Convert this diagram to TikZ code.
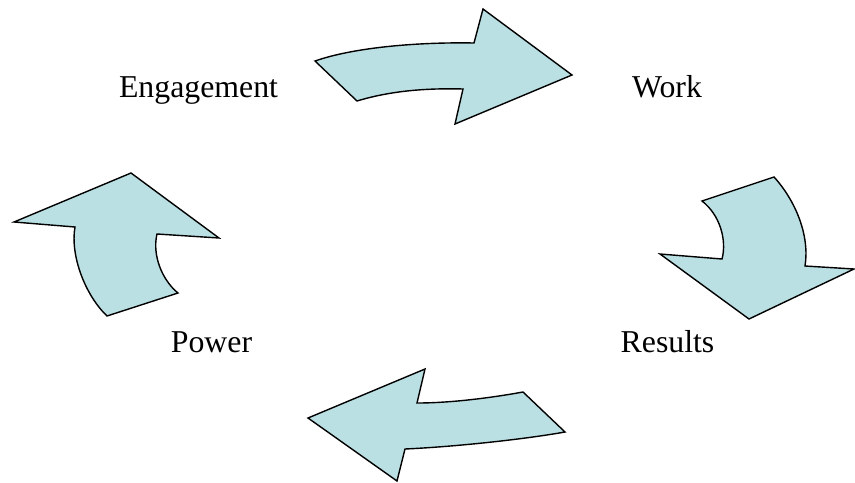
\documentclass[tikz,border=0pt]{standalone}
\usepackage{fontspec}
\setmainfont{Liberation Serif}
\definecolor{arrowfill}{RGB}{186,224,227}
\tikzset{
  cyclearrow/.style={draw=black, line width=0.7pt, fill=arrowfill, line join=miter},
  lbl/.style={font=\fontsize{15.9}{18}\selectfont, inner sep=0pt, anchor=base}
}
\begin{document}
\begin{tikzpicture}[x=0.5pt,y=-0.5pt]
\useasboundingbox (0,0) rectangle (855,482);
% top arrow
\draw[cyclearrow] (315,61) .. controls (355,47) and (420,42) .. (474,43)
  -- (483,9) -- (572,75) -- (455,124) -- (463,89)
  .. controls (425,88) and (390,91) .. (357,101) -- cycle;
% right arrow
\draw[cyclearrow] (702,201) -- (774,177)
  .. controls (795,200) and (810,235) .. (805,266)
  -- (854,269) -- (749,319) -- (660,254) -- (722,259)
  .. controls (727,240) and (720,215) .. (702,201) -- cycle;
% bottom arrow
\draw[cyclearrow] (523,392) -- (565,432)
  .. controls (520,440) and (450,447) .. (405,449)
  -- (397,481) -- (308,418) -- (425,369) -- (417,403)
  .. controls (450,403) and (490,398) .. (523,392) -- cycle;
% left arrow
\draw[cyclearrow] (131,173) -- (219,238) -- (157,234)
  .. controls (152,255) and (162,280) .. (178,293)
  -- (107,316)
  .. controls (85,295) and (70,255) .. (75,227)
  -- (14,222) -- cycle;
\node[lbl] (eng) at (198.5,97) {Engagement};
\node[lbl] (work) at (667,97) {Work};
\node[lbl] (res) at (667.5,352) {Results};
\node[lbl] (pow) at (211.5,352) {Power};
\end{tikzpicture}
\end{document}
